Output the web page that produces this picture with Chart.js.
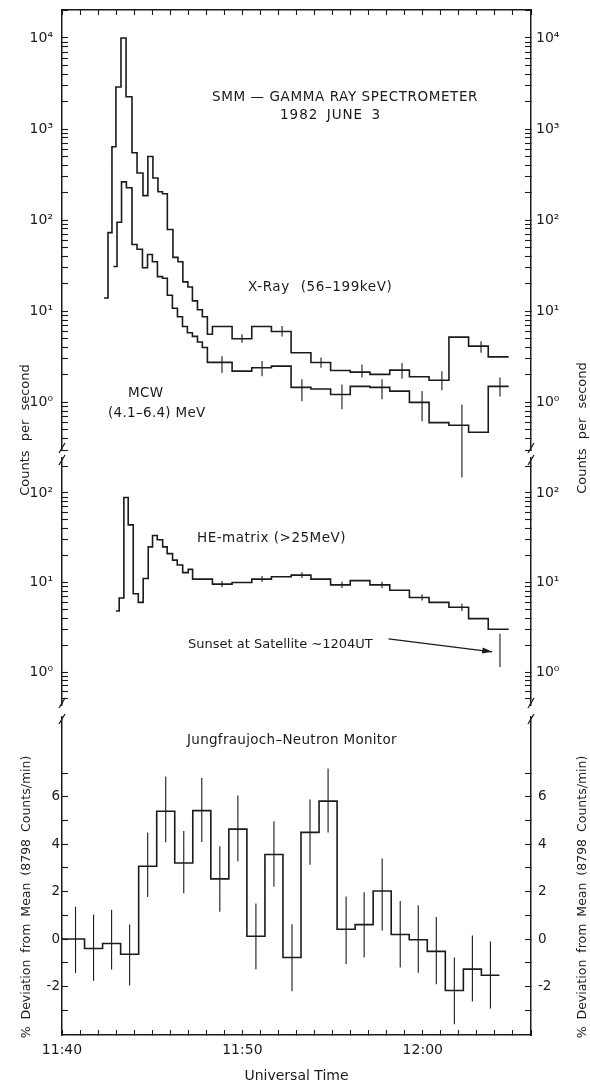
<!DOCTYPE html>
<html>
<head>
<meta charset="utf-8">
<title>SMM Gamma Ray Spectrometer, 1982 June 3</title>
<script src="https://cdn.jsdelivr.net/npm/chart.js@4.4.1/dist/chart.umd.min.js"></script>
<style>
  html, body { margin: 0; padding: 0; background: #fff; }
  #fig { position: relative; width: 590px; height: 1086px; overflow: hidden;
         font-family: "DejaVu Sans", sans-serif; color: #1b1b1b; }
  #fig canvas { position: absolute; left: 0; }
  .note { position: absolute; white-space: nowrap; font-size: 13.5px; line-height: 1;
          letter-spacing: 0.3px; transform: translateY(-50%); }
  .vtitle { position: absolute; white-space: nowrap; font-size: 13px; line-height: 1;
            transform: translate(-50%, -50%) rotate(-90deg); }
</style>
</head>
<body>
<div id="fig">
  <canvas id="gamma" width="590" height="485" style="top:0"></canvas>
  <canvas id="he" width="590" height="270" style="top:445px"></canvas>
  <canvas id="neutron" width="590" height="378" style="top:708px"></canvas>

  <div class="note" style="left:212px;top:97px;letter-spacing:0.6px">SMM — GAMMA RAY SPECTROMETER</div>
  <div class="note" style="left:280px;top:115px;letter-spacing:1px;word-spacing:3px">1982 JUNE 3</div>
  <div class="note" style="left:248px;top:287px;letter-spacing:0.6px;word-spacing:6px">X-Ray (56–199keV)</div>
  <div class="note" style="left:128px;top:393px">MCW</div>
  <div class="note" style="left:108px;top:413px">(4.1–6.4) MeV</div>
  <div class="note" style="left:197px;top:538px;letter-spacing:0.5px">HE-matrix (&gt;25MeV)</div>
  <div class="note" style="left:188px;top:643px;font-size:13px;letter-spacing:0">Sunset at Satellite ∼1204UT</div>
  <div class="note" style="left:187px;top:740px">Jungfraujoch–Neutron Monitor</div>

  <div class="vtitle" style="left:24px;top:430px;word-spacing:5px">Counts per second</div>
  <div class="vtitle" style="left:581px;top:428px;word-spacing:5px">Counts per second</div>
  <div class="vtitle" style="left:26px;top:897px;font-size:12.5px;word-spacing:3px">% Deviation from Mean (8798 Counts/min)</div>
  <div class="vtitle" style="left:582px;top:897px;font-size:12.5px;word-spacing:3px">% Deviation from Mean (8798 Counts/min)</div>
</div>
<script>
// all times are minutes after 11:00 UT; each *T list holds bin edges (one more than the values)
const xrayT = [42.33, 42.55, 42.77, 42.99, 43.27, 43.55, 43.88, 44.16, 44.49, 44.76, 45.04, 45.32,
  45.57, 45.84, 46.15, 46.43, 46.70, 46.98, 47.23, 47.51, 47.78, 48.06, 48.34,
  49.43, 50.52, 51.61, 52.70, 53.80, 54.89, 55.98, 57.07, 58.17, 59.26, 60.35, 61.45, 62.54, 63.63, 64.76];
const xrayV = [14, 73, 640, 2900, 10000, 2260, 550, 330, 186, 500, 290, 205,
  195, 79, 39, 35, 21, 18.5, 13, 10.4, 8.7, 5.6,
  6.8, 5.0, 6.8, 6.0, 3.5, 2.74, 2.24, 2.15, 2.03, 2.26, 1.91, 1.75, 5.2, 4.14, 3.16];
const xrayErrT = [49.98, 52.20, 54.36, 56.63, 58.85, 61.06, 63.23];
const xrayErrLo = [4.5, 5.3, 2.4, 1.88, 1.82, 1.36, 3.5];
const xrayErrHi = [5.6, 6.9, 3.1, 2.6, 2.7, 2.2, 4.7];

const mcwT = [42.85, 43.05, 43.30, 43.57, 43.88, 44.16, 44.46, 44.74, 45.01, 45.29, 45.57,
  45.84, 46.12, 46.40, 46.68, 46.95, 47.23, 47.51, 47.78, 48.06, 48.34,
  49.43, 50.52, 51.61, 52.70, 53.80, 54.89, 55.98, 57.07, 58.17, 59.26, 60.35, 61.45, 62.54, 63.63, 64.76];
const mcwV = [31, 95, 263, 227, 54, 48, 30, 42, 35, 24,
  23, 15, 10.8, 8.7, 6.8, 5.8, 5.3, 4.6, 4.0, 2.75,
  2.75, 2.2, 2.4, 2.5, 1.46, 1.40, 1.22, 1.5, 1.46, 1.33, 1.0, 0.60, 0.56, 0.47, 1.5];
const mcwErrT = [48.87, 51.09, 53.30, 55.52, 57.74, 59.96, 62.17, 64.28];
const mcwErrLo = [2.1, 1.94, 1.03, 0.84, 1.08, 0.62, 0.15, 1.16];
const mcwErrHi = [3.2, 2.84, 1.79, 1.57, 1.79, 1.33, 0.95, 1.88];

const heT = [42.99, 43.17, 43.43, 43.67, 43.95, 44.23, 44.50, 44.78, 45.02, 45.28, 45.58,
  45.83, 46.13, 46.39, 46.69, 47.00, 47.24, 48.34,
  49.43, 50.52, 51.61, 52.70, 53.80, 54.89, 55.98, 57.07, 58.17, 59.26, 60.35, 61.45, 62.54, 63.63, 64.76];
const heV = [4.8, 6.7, 89, 44, 7.5, 6.0, 11.1, 25, 33.5, 30,
  25, 21, 17.8, 15.7, 12.9, 14, 10.9,
  9.6, 10, 10.9, 11.6, 12.1, 10.9, 9.4, 10.5, 9.4, 8.2, 6.8, 6.0, 5.3, 3.95, 3.0];
const heErrT = [48.87, 51.09, 53.30, 55.52, 57.74, 59.96, 62.17];
const heErrLo = [8.9, 10.1, 11.2, 8.7, 8.7, 6.3, 4.8];
const heErrHi = [10.4, 11.8, 13.0, 10.2, 10.2, 7.4, 5.8];
const sunsetT = [64.28];
const sunsetLo = [1.14];
const sunsetHi = [2.67];

const nmT = [40.0, 41.25, 42.25, 43.25, 44.25, 45.25, 46.25, 47.25, 48.25, 49.25, 50.25, 51.25, 52.25,
  53.25, 54.25, 55.25, 56.25, 57.25, 58.25, 59.25, 60.25, 61.25, 62.25, 63.25, 64.25];
const nmV = [0.0, -0.4, -0.19, -0.64, 3.07, 5.39, 3.21, 5.42, 2.54, 4.64, 0.12, 3.57,
  -0.78, 4.5, 5.82, 0.41, 0.61, 2.03, 0.19, -0.03, -0.52, -2.17, -1.27, -1.53];
const nmErrT = [40.75, 41.75, 42.75, 43.75, 44.75, 45.75, 46.75, 47.75, 48.75, 49.75, 50.75, 51.75,
  52.75, 53.75, 54.75, 55.75, 56.75, 57.75, 58.75, 59.75, 60.75, 61.75, 62.75, 63.75];
const nmErrHi = [1.36, 1.04, 1.24, 0.61, 4.5, 6.86, 4.56, 6.8, 3.92, 6.06, 1.50, 4.97,
  0.62, 5.89, 7.2, 1.79, 1.97, 3.4, 1.6, 1.43, 0.93, -0.78, 0.15, -0.1];
const nmErrLo = [-1.43, -1.76, -1.29, -1.96, 1.77, 4.08, 1.93, 4.09, 1.15, 3.28, -1.27, 2.21,
  -2.2, 3.14, 4.5, -1.06, -0.78, 0.36, -1.2, -1.42, -1.91, -3.6, -2.64, -2.93];

const timeTickValues = [40, 50, 60];
const timeTickLabels = ['11:40', '11:50', '12:00'];
const devTickValues = [-3, -2, -1, 0, 1, 2, 3, 4, 5, 6, 7];
const devTickLabels = ['', '-2', '', '0', '', '2', '', '4', '', '6', ''];

// sunset arrow, in data units of the middle panel
const arrowFrom = [58.1, 2.35];
const arrowTo = [63.85, 1.68];

const INK = '#1b1b1b';
const FAMILY = 'DejaVu Sans';

const minuteTicks = [];
for (let m = 40; m <= 66; m++) minuteTicks.push(m);

function steps(t, v) {
  return t.map((x, i) => ({ x, y: v[Math.min(i, v.length - 1)] }));
}

function bars(t, lo, hi) {
  const d = [];
  t.forEach((x, i) => { d.push({ x, y: lo[i] }, { x, y: hi[i] }, { x, y: null }); });
  return d;
}

function stepLine(t, v) {
  return { data: steps(t, v), stepped: true, borderColor: INK, borderWidth: 1.6, pointRadius: 0, fill: false };
}

function errLine(t, lo, hi) {
  return { data: bars(t, lo, hi), borderColor: INK, borderWidth: 1.1, pointRadius: 0, fill: false, clip: false };
}

const sup = { '-': '⁻', '0': '⁰', '1': '¹', '2': '²', '3': '³', '4': '⁴' };
function logLabel(v) {
  const e = Math.log10(v);
  if (Math.abs(e - Math.round(e)) > 1e-6) return '';
  return '10' + String(Math.round(e)).split('').map(c => sup[c]).join('');
}

function logTicks(s) {
  const out = [];
  for (let e = -1; e <= 4; e++) {
    for (let m = 1; m <= 9; m++) {
      const v = m * Math.pow(10, e);
      if (v >= s.min && v <= s.max) out.push({ value: v });
    }
  }
  s.ticks = out;
}

function fitSide(s, position) {
  s.width = position === 'left' ? 62 : 59;
  s.paddingTop = 0;
  s.paddingBottom = 0;
}

function countAxis(position, min, max) {
  return {
    type: 'logarithmic', position, min, max,
    border: { color: INK, width: 1.5 },
    grid: { drawOnChartArea: false, color: INK, tickLength: -6, tickWidth: 1.1 },
    ticks: { autoSkip: false, color: INK, font: { family: FAMILY, size: 14 },
             padding: position === 'left' ? 15 : 11, callback: logLabel },
    afterBuildTicks: logTicks,
    afterFit: s => fitSide(s, position)
  };
}

function devAxis(position) {
  return {
    type: 'linear', position, min: -4.05, max: 9.37,
    border: { color: INK, width: 1.5 },
    grid: { drawOnChartArea: false, color: INK, tickLength: -6, tickWidth: 1.1 },
    ticks: { autoSkip: false, color: INK, font: { family: FAMILY, size: 13.5 },
             padding: position === 'left' ? 8 : 13,
             callback: v => { const i = devTickValues.indexOf(v); return i < 0 ? '' : devTickLabels[i]; } },
    afterBuildTicks: s => { s.ticks = devTickValues.map(v => ({ value: v })); },
    afterFit: s => fitSide(s, position)
  };
}

function baseOptions(padding) {
  return {
    responsive: false,
    animation: false,
    events: [],
    layout: { padding: Object.assign({ left: 0, right: 0, top: 0, bottom: 0 }, padding) },
    plugins: { legend: { display: false }, tooltip: { enabled: false } },
    elements: { point: { radius: 0 }, line: { tension: 0 } }
  };
}

// "//" marks where the vertical axes are broken between panels
function breakMarks(edges) {
  return {
    id: 'breakMarks',
    afterDraw(chart) {
      const { ctx, chartArea: a } = chart;
      ctx.save();
      ctx.strokeStyle = INK;
      ctx.lineWidth = 1.3;
      edges.forEach(edge => {
        const y = edge === 'top' ? a.top + 2 : a.bottom - 2;
        [a.left, a.right].forEach(x => {
          ctx.beginPath();
          ctx.moveTo(x - 3, y + 5);
          ctx.lineTo(x + 3, y - 5);
          ctx.stroke();
        });
      });
      ctx.restore();
    }
  };
}

const sunsetArrow = {
  id: 'sunsetArrow',
  afterDatasetsDraw(chart) {
    const { ctx, scales: { x, y } } = chart;
    const x0 = x.getPixelForValue(arrowFrom[0]), y0 = y.getPixelForValue(arrowFrom[1]);
    const x1 = x.getPixelForValue(arrowTo[0]), y1 = y.getPixelForValue(arrowTo[1]);
    const ang = Math.atan2(y1 - y0, x1 - x0);
    ctx.save();
    ctx.strokeStyle = INK;
    ctx.fillStyle = INK;
    ctx.lineWidth = 1.2;
    ctx.beginPath();
    ctx.moveTo(x0, y0);
    ctx.lineTo(x1, y1);
    ctx.stroke();
    ctx.beginPath();
    ctx.moveTo(x1, y1);
    ctx.lineTo(x1 - 10 * Math.cos(ang) + 3 * Math.sin(ang), y1 - 10 * Math.sin(ang) - 3 * Math.cos(ang));
    ctx.lineTo(x1 - 10 * Math.cos(ang) - 3 * Math.sin(ang), y1 - 10 * Math.sin(ang) + 3 * Math.cos(ang));
    ctx.closePath();
    ctx.fill();
    ctx.restore();
  }
};

const timeAxisCommon = {
  type: 'linear', min: 40, max: 66,
  border: { color: INK, width: 1.5 },
  grid: { drawOnChartArea: false, color: INK, tickLength: -5, tickWidth: 1.1 },
  afterBuildTicks: s => { s.ticks = minuteTicks.map(v => ({ value: v })); }
};

// top panel: X-ray and MCW count rates
new Chart(document.getElementById('gamma'), {
  type: 'line',
  data: {
    datasets: [
      stepLine(xrayT, xrayV),
      stepLine(mcwT, mcwV),
      errLine(xrayErrT, xrayErrLo, xrayErrHi),
      errLine(mcwErrT, mcwErrLo, mcwErrHi)
    ]
  },
  options: Object.assign(baseOptions({ bottom: 35 }), {
    scales: {
      x: Object.assign({}, timeAxisCommon, {
        position: 'top',
        ticks: { display: false },
        afterFit: s => { s.height = 10; s.paddingLeft = 0; s.paddingRight = 0; }
      }),
      y: countAxis('left', 0.305, 20280),
      y2: countAxis('right', 0.305, 20280)
    }
  }),
  plugins: [breakMarks(['bottom'])]
});

// middle panel: HE-matrix
new Chart(document.getElementById('he'), {
  type: 'line',
  data: {
    datasets: [
      stepLine(heT, heV),
      errLine(heErrT, heErrLo, heErrHi),
      errLine(sunsetT, sunsetLo, sunsetHi)
    ]
  },
  options: Object.assign(baseOptions({ top: 13, bottom: 10 }), {
    scales: {
      x: { type: 'linear', min: 40, max: 66, display: false },
      y: countAxis('left', 0.428, 246),
      y2: countAxis('right', 0.428, 246)
    }
  }),
  plugins: [breakMarks(['top', 'bottom']), sunsetArrow]
});

// bottom panel: Jungfraujoch neutron monitor
new Chart(document.getElementById('neutron'), {
  type: 'line',
  data: {
    datasets: [
      stepLine(nmT, nmV),
      errLine(nmErrT, nmErrLo, nmErrHi)
    ]
  },
  options: Object.assign(baseOptions({ top: 9 }), {
    scales: {
      x: Object.assign({}, timeAxisCommon, {
        position: 'bottom',
        ticks: {
          autoSkip: false, maxRotation: 0, padding: 12, color: INK,
          font: { family: FAMILY, size: 14 },
          callback: v => { const i = timeTickValues.indexOf(v); return i < 0 ? '' : timeTickLabels[i]; }
        },
        title: { display: true, text: 'Universal Time', color: INK,
                 font: { family: FAMILY, size: 14 }, padding: { top: 0, bottom: 1 } },
        afterFit: s => { s.height = 51; s.paddingLeft = 0; s.paddingRight = 0; }
      }),
      y: devAxis('left'),
      y2: devAxis('right')
    }
  }),
  plugins: [breakMarks(['top'])]
});
</script>
</body>
</html>
